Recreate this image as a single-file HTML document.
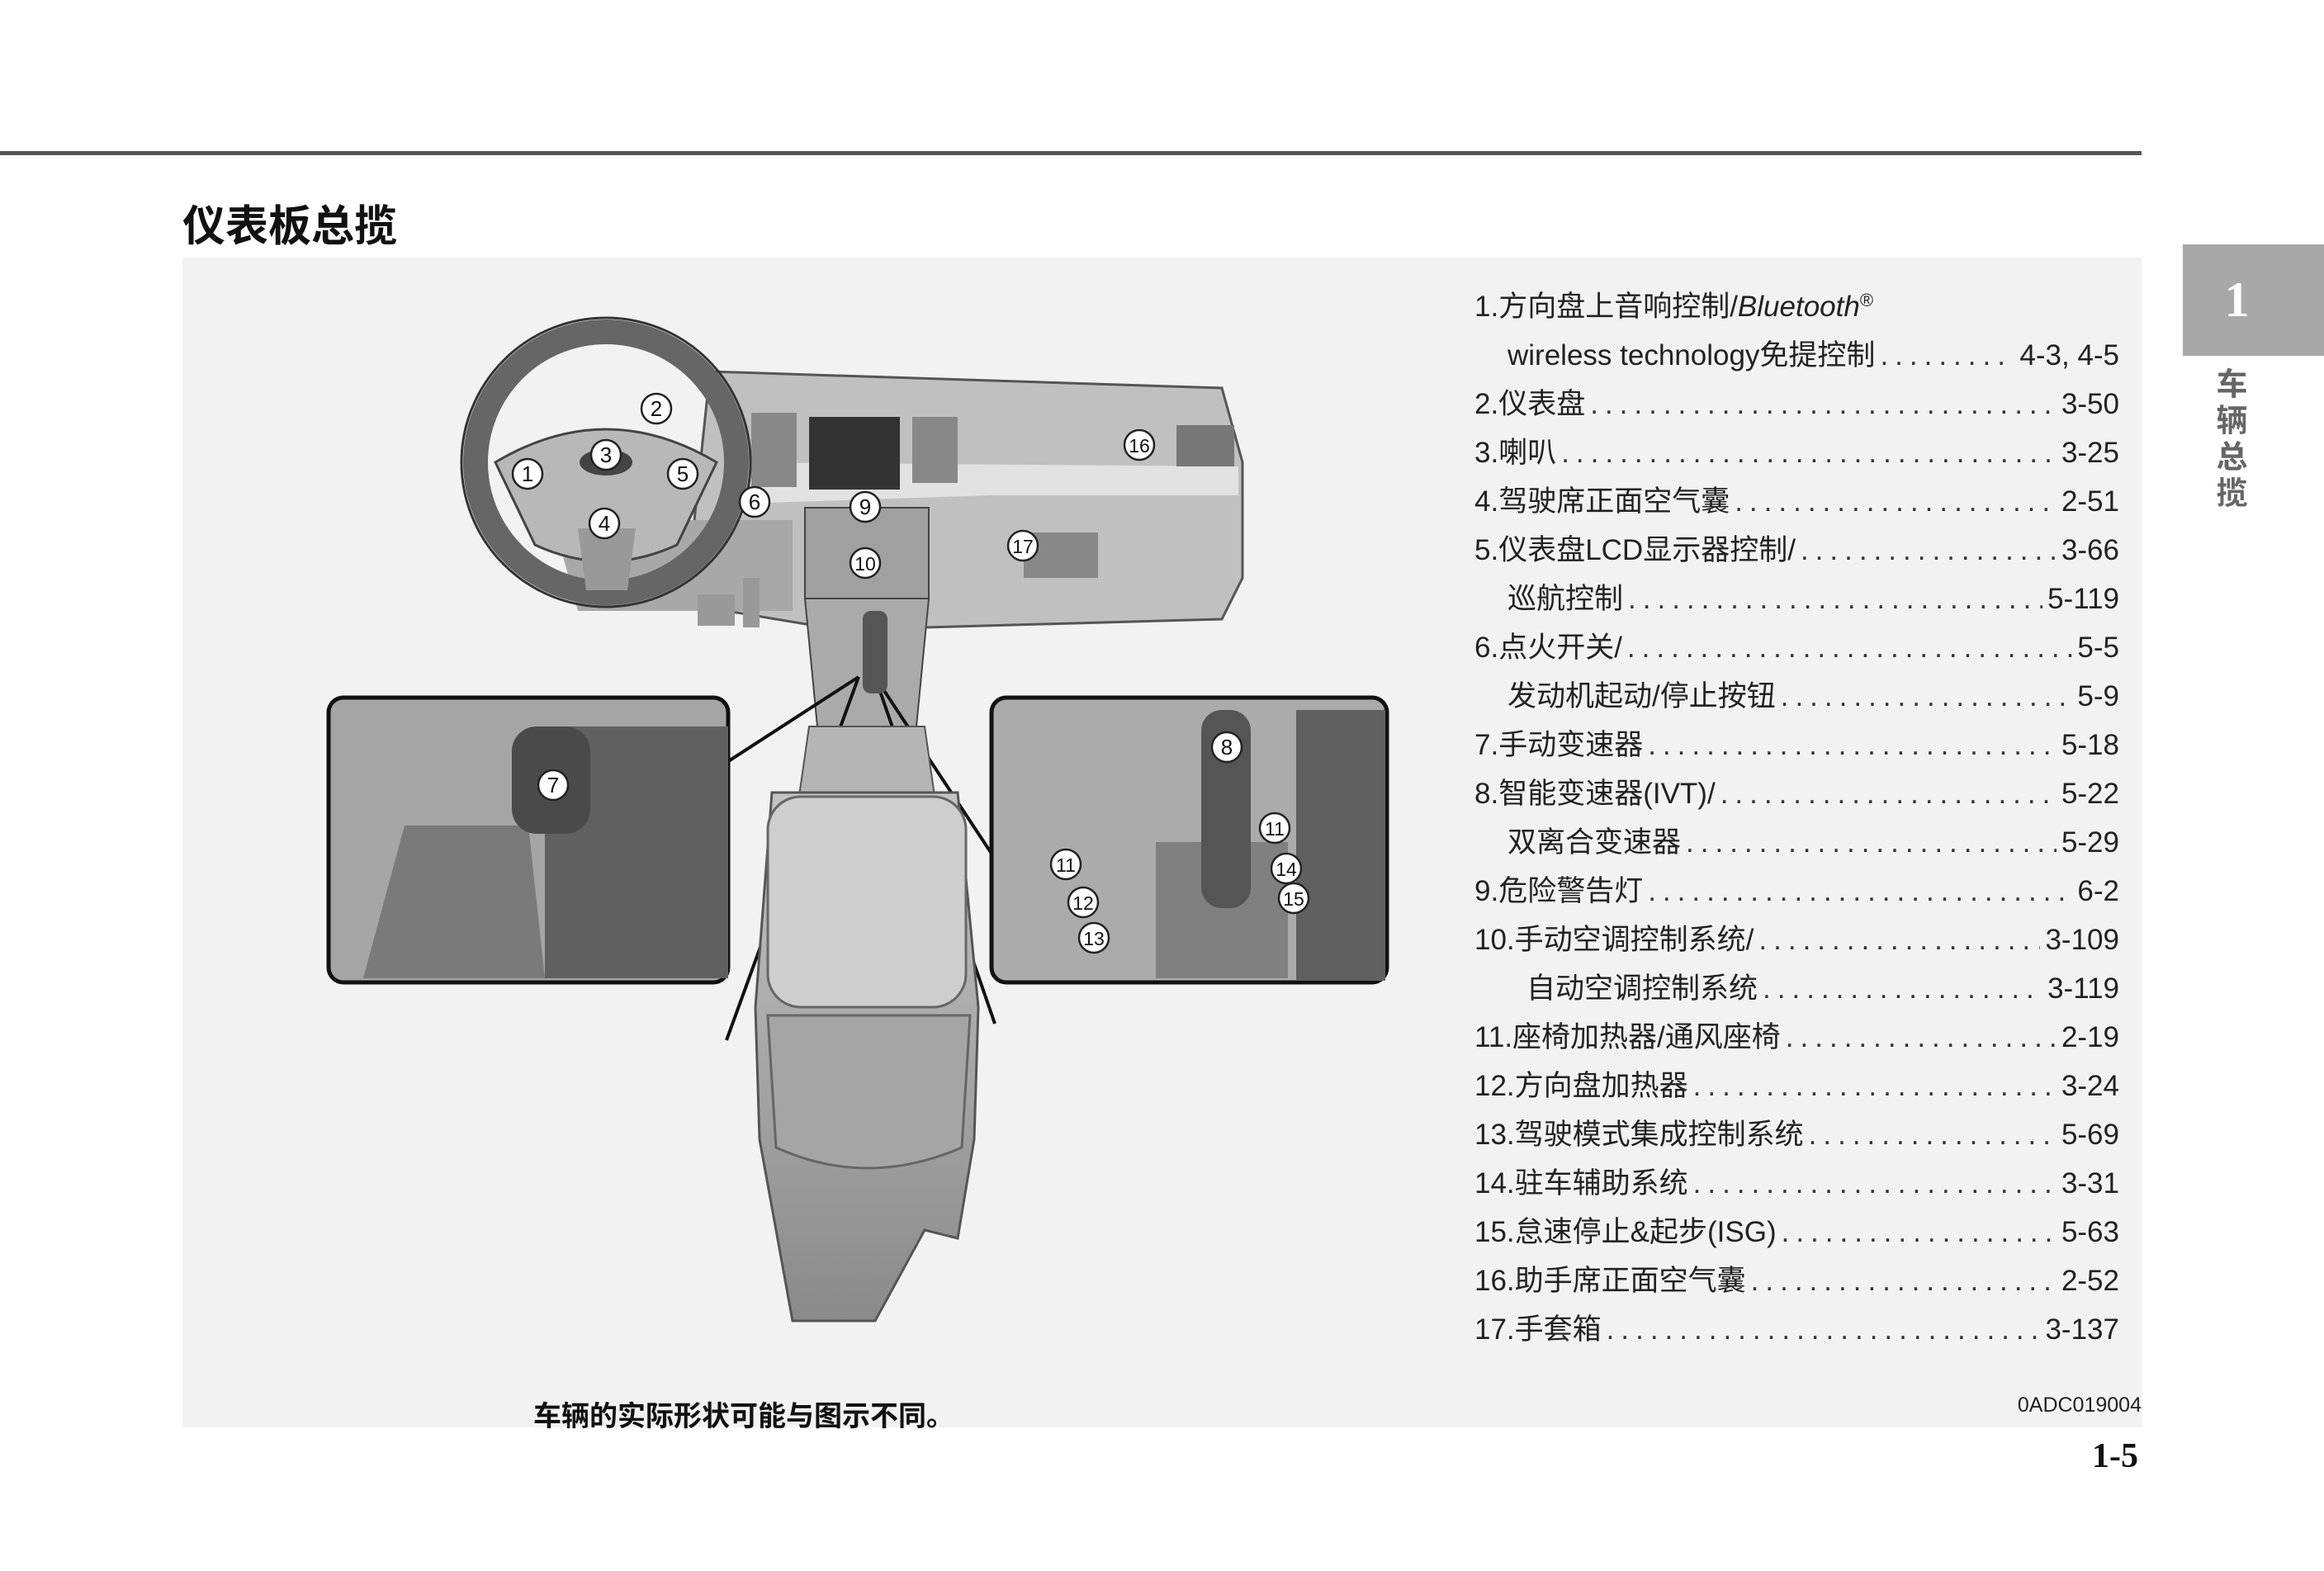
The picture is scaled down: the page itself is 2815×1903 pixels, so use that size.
<!DOCTYPE html>
<html><head><meta charset="utf-8"><style>
body{margin:0;width:2815px;height:1903px;background:#fff;position:relative;overflow:hidden;font-family:"Liberation Sans","Noto Sans CJK SC",sans-serif;}
.a{position:absolute}
.ln{position:absolute;left:1786px;width:781px;height:50px;display:flex;align-items:flex-end;font-size:35px;color:#222;white-space:nowrap;line-height:50px}
.ln .d{flex:1;overflow:hidden;margin:0 6px;letter-spacing:8px;color:#333}
.ln .d::before{content:"..........................................................................................................................."}
</style></head><body>
<div class="a" style="left:0;top:183px;width:2594px;height:5px;background:#555"></div>
<div class="a" style="left:221px;top:232px;font-size:52px;font-weight:bold;color:#111">仪表板总揽</div>
<div class="a" style="left:221px;top:312px;width:2373px;height:1417px;background:#f1f2f1"></div>
<div class="a" style="left:2644px;top:296px;width:171px;height:135px;background:#a8a8a8;color:#fff;font-family:'Liberation Serif',serif;font-size:60px;font-weight:bold;text-align:center;line-height:135px;padding-right:40px;box-sizing:border-box">1</div>
<div class="a" style="left:2672px;top:445px;writing-mode:vertical-rl;font-size:38px;font-weight:bold;color:#666;letter-spacing:6px">车辆总揽</div>

<svg class="a" style="left:0;top:0" width="2815" height="1903">
<defs><linearGradient id="g" x1="0" y1="0" x2="0" y2="1"><stop offset="0" stop-color="#c4c4c4"/><stop offset="1" stop-color="#8a8a8a"/></linearGradient></defs>
<path d="M860 450 L1480 470 L1505 560 L1505 700 L1480 750 L1120 760 L1000 760 L880 740 L840 640 Z" fill="#c0c0c0" stroke="#555" stroke-width="3"/>
<path d="M880 560 L1500 565 L1500 600 L1200 600 L900 610Z" fill="#e2e2e2"/>
<rect x="980" y="505" width="110" height="88" fill="#333"/>
<rect x="910" y="500" width="55" height="90" fill="#888"/>
<rect x="1105" y="505" width="55" height="80" fill="#888"/>
<rect x="1425" y="515" width="70" height="50" fill="#777"/>
<path d="M670 630 L960 630 L960 740 L700 740Z" fill="#a8a8a8"/>
<rect x="975" y="615" width="150" height="110" fill="#a0a0a0" stroke="#444" stroke-width="2"/>
<path d="M975 725 L1125 725 L1110 880 L990 880Z" fill="#aaa" stroke="#444" stroke-width="2"/>
<rect x="1240" y="645" width="90" height="55" fill="#888"/>
<rect x="845" y="720" width="45" height="38" fill="#999"/><rect x="900" y="700" width="20" height="60" fill="#999"/>
<circle cx="734" cy="560" r="158" fill="none" stroke="#666" stroke-width="30"/>
<circle cx="734" cy="560" r="175" fill="none" stroke="#333" stroke-width="3"/>
<path d="M600 560 Q734 480 868 560 L820 660 Q734 700 648 660Z" fill="#b8b8b8" stroke="#444" stroke-width="3"/>
<path d="M700 640 L770 640 L760 715 L710 715Z" fill="#999"/>
<ellipse cx="734" cy="560" rx="32" ry="16" fill="#444"/>
<path d="M1040 820 L700 1040" stroke="#111" stroke-width="4"/>
<path d="M1040 820 L880 1260" stroke="#111" stroke-width="4"/>
<path d="M1060 820 L1205 1040" stroke="#111" stroke-width="4"/>
<path d="M1060 820 L1205 1240" stroke="#111" stroke-width="4"/>
<path d="M980 880 L1120 880 L1140 1020 L960 1020Z" fill="#b5b5b5" stroke="#555" stroke-width="2"/>
<rect x="1045" y="740" width="30" height="100" rx="10" fill="#555"/>
<path d="M935 960 L1160 960 L1185 1220 L1180 1380 L1160 1500 L1120 1490 L1060 1600 L960 1600 L940 1490 L920 1380 L915 1220Z" fill="url(#g)" stroke="#555" stroke-width="3"/>
<rect x="930" y="965" width="240" height="255" rx="40" fill="#cecece" stroke="#666" stroke-width="3"/>
<path d="M930 1230 L1175 1230 L1165 1390 Q1050 1440 940 1390Z" fill="#a5a5a5" stroke="#666" stroke-width="3"/>
<rect x="398" y="845" width="484" height="345" rx="18" fill="#a5a5a5" stroke="#111" stroke-width="5"/>
<rect x="660" y="880" width="222" height="305" fill="#606060"/>
<path d="M490 1000 L640 1000 L660 1185 L440 1185Z" fill="#7a7a7a"/>
<rect x="620" y="880" width="95" height="130" rx="30" fill="#4a4a4a"/>
<rect x="1201" y="845" width="479" height="345" rx="18" fill="#ababab" stroke="#111" stroke-width="5"/>
<rect x="1570" y="860" width="108" height="328" fill="#606060"/>
<path d="M1400 1020 L1560 1020 L1560 1185 L1400 1185Z" fill="#808080"/>
<rect x="1455" y="860" width="60" height="240" rx="25" fill="#555"/>
<g font-family="Liberation Sans" font-size="26" text-anchor="middle" fill="#111">
<g stroke="#222" stroke-width="2.5" fill="#fff">
<circle cx="639" cy="574" r="18"/><circle cx="795" cy="495" r="18"/><circle cx="734" cy="551" r="18"/><circle cx="732" cy="634" r="18"/><circle cx="827" cy="574" r="18"/><circle cx="914" cy="608" r="18"/><circle cx="1048" cy="614" r="18"/><circle cx="1048" cy="682" r="18"/><circle cx="1380" cy="539" r="18"/><circle cx="1239" cy="661" r="18"/><circle cx="670" cy="951" r="18"/><circle cx="1486" cy="905" r="18"/><circle cx="1544" cy="1003" r="18"/><circle cx="1558" cy="1052" r="18"/><circle cx="1567" cy="1088" r="18"/><circle cx="1291" cy="1047" r="18"/><circle cx="1312" cy="1093" r="18"/><circle cx="1325" cy="1136" r="18"/>
</g>
<text x="639" y="583">1</text><text x="795" y="504">2</text><text x="734" y="560">3</text><text x="732" y="643">4</text><text x="827" y="583">5</text><text x="914" y="617">6</text><text x="1048" y="623">9</text><text x="1048" y="691" font-size="23">10</text><text x="1380" y="548" font-size="23">16</text><text x="1239" y="670" font-size="23">17</text><text x="670" y="960">7</text><text x="1486" y="914">8</text><text x="1544" y="1012" font-size="23">11</text><text x="1558" y="1061" font-size="23">14</text><text x="1567" y="1097" font-size="23">15</text><text x="1291" y="1056" font-size="23">11</text><text x="1312" y="1102" font-size="23">12</text><text x="1325" y="1145" font-size="23">13</text>
</g>
</svg>

<div class="ln" style="top:347px"><span>1.方向盘上音响控制/<i>Bluetooth</i><span style="font-size:22px;vertical-align:12px">®</span></span></div>
<div class="ln" style="top:406px;left:1826px;width:741px"><span>wireless technology免提控制</span><span class="d"></span><span>4-3, 4-5</span></div>
<div class="ln" style="top:465px"><span>2.仪表盘</span><span class="d"></span><span>3-50</span></div>
<div class="ln" style="top:524px"><span>3.喇叭</span><span class="d"></span><span>3-25</span></div>
<div class="ln" style="top:583px"><span>4.驾驶席正面空气囊</span><span class="d"></span><span>2-51</span></div>
<div class="ln" style="top:642px"><span>5.仪表盘LCD显示器控制/</span><span class="d"></span><span>3-66</span></div>
<div class="ln" style="top:701px;left:1826px;width:741px"><span>巡航控制</span><span class="d"></span><span>5-119</span></div>
<div class="ln" style="top:760px"><span>6.点火开关/</span><span class="d"></span><span>5-5</span></div>
<div class="ln" style="top:819px;left:1826px;width:741px"><span>发动机起动/停止按钮</span><span class="d"></span><span>5-9</span></div>
<div class="ln" style="top:878px"><span>7.手动变速器</span><span class="d"></span><span>5-18</span></div>
<div class="ln" style="top:937px"><span>8.智能变速器(IVT)/</span><span class="d"></span><span>5-22</span></div>
<div class="ln" style="top:996px;left:1826px;width:741px"><span>双离合变速器</span><span class="d"></span><span>5-29</span></div>
<div class="ln" style="top:1055px"><span>9.危险警告灯</span><span class="d"></span><span>6-2</span></div>
<div class="ln" style="top:1114px"><span>10.手动空调控制系统/</span><span class="d"></span><span>3-109</span></div>
<div class="ln" style="top:1173px;left:1849px;width:718px"><span>自动空调控制系统</span><span class="d"></span><span>3-119</span></div>
<div class="ln" style="top:1232px"><span>11.座椅加热器/通风座椅</span><span class="d"></span><span>2-19</span></div>
<div class="ln" style="top:1291px"><span>12.方向盘加热器</span><span class="d"></span><span>3-24</span></div>
<div class="ln" style="top:1350px"><span>13.驾驶模式集成控制系统</span><span class="d"></span><span>5-69</span></div>
<div class="ln" style="top:1409px"><span>14.驻车辅助系统</span><span class="d"></span><span>3-31</span></div>
<div class="ln" style="top:1468px"><span>15.怠速停止&amp;起步(ISG)</span><span class="d"></span><span>5-63</span></div>
<div class="ln" style="top:1527px"><span>16.助手席正面空气囊</span><span class="d"></span><span>2-52</span></div>
<div class="ln" style="top:1586px"><span>17.手套箱</span><span class="d"></span><span>3-137</span></div>

<div class="a" style="left:646px;top:1688px;font-size:34px;font-weight:bold;color:#111">车辆的实际形状可能与图示不同。</div>
<div class="a" style="left:2430px;top:1688px;width:164px;text-align:right;font-size:25px;color:#222">0ADC019004</div>
<div class="a" style="left:2480px;top:1740px;width:110px;text-align:right;font-family:'Liberation Serif',serif;font-size:42px;font-weight:bold;color:#111">1-5</div>
</body></html>
